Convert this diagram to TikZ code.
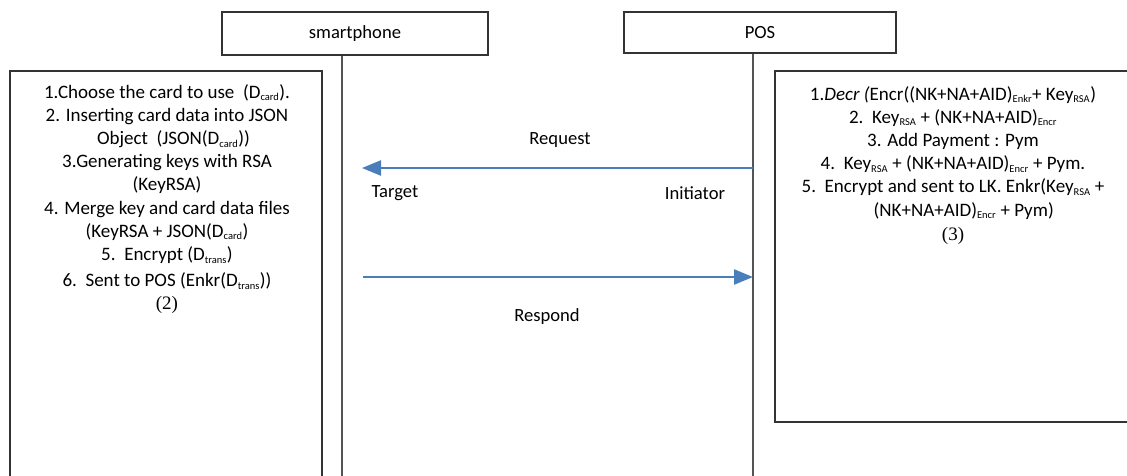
\documentclass[tikz,border=0pt]{standalone}
\usepackage{fontspec}
\setmainfont{Carlito}
\newfontfamily\numfont{Liberation Serif}
\usepackage{tikz}
\usetikzlibrary{arrows.meta,positioning}
\definecolor{msgblue}{HTML}{4A7EBB}
\definecolor{framegray}{HTML}{333333}
\definecolor{linegray}{HTML}{555555}
\newcommand{\sbx}[1]{\textsubscript{\fontsize{10.5}{11}\selectfont #1}}

\tikzset{
    headbox/.style={draw=framegray, line width=1.3pt, fill=white, inner sep=0pt},
    stepbox/.style={draw=framegray, line width=1.5pt, fill=white, inner sep=0pt},
    steptext/.style={align=center, inner sep=0pt, font=\fontsize{19}{23.2}\selectfont},
    lifeline/.style={draw=linegray, line width=2pt},
    msg/.style={draw=msgblue, line width=2.4pt, -{Triangle[length=19pt,width=15pt]}},
    msglabel/.style={font=\fontsize{18.6}{22}\selectfont}
}

\begin{document}
\begin{tikzpicture}[x=1pt, y=-1pt]
    \clip (0,0) rectangle (1127,475);
    \useasboundingbox (0,0) rectangle (1127,475);

    % the two parties
    \node[headbox, minimum width=266, minimum height=43, font=\fontsize{18.6}{22}\selectfont] (phone) at (355,33.5) {smartphone};
    \node[headbox, minimum width=272, minimum height=41, font=\fontsize{18.6}{22}\selectfont] (pos) at (760,32.5) {POS};

    % lifelines
    \coordinate (phoneline) at (342,480);
    \coordinate (posline) at (753,480);
    \draw[lifeline] (phoneline |- phone.south) -- (phoneline);
    \draw[lifeline] (posline |- pos.south) -- (posline);

    % step boxes
    \node[stepbox, minimum width=312, minimum height=420, anchor=north west] (phonebox) at (9,70) {};
    \node[stepbox, minimum width=366, minimum height=351, anchor=north west] (posbox) at (774,70) {};

    \node[steptext, anchor=north] (phonesteps) at (167,84) {
        1.Choose the card to use\ \ (D\sbx{card}).\\
        2. Inserting card data into JSON\\
        \ \ \ Object\ \ (JSON(D\sbx{card}))\\
        3.Generating keys with RSA\\
        (KeyRSA)\\
        4. Merge key and card data files\\
        (KeyRSA + JSON(D\sbx{card})\\
        5.\ \ Encrypt (D\sbx{trans})\\[3pt]
        6.\ \ Sent to POS (Enkr(D\sbx{trans}))\\
        {\numfont (2)}};
    \node[steptext, anchor=north] (possteps) at (953,86) {
        1.\textit{Decr (}Encr((NK+NA+AID)\sbx{Enkr}+ Key\sbx{RSA})\\
        2.\ \ Key\sbx{RSA} + (NK+NA+AID)\sbx{Encr}\\
        3. Add Payment : Pym\\
        4.\ \ Key\sbx{RSA} + (NK+NA+AID)\sbx{Encr} + Pym.\\
        5.\ \ Encrypt and sent to LK. Enkr(Key\sbx{RSA} +\\
        \ \ \ \ \ (NK+NA+AID)\sbx{Encr} + Pym)\\[1pt]
        {\numfont (3)}};

    % messages
    \coordinate (reqfrom) at (753,168);
    \coordinate (reqto) at (362,168);
    \coordinate (respfrom) at (363,277);
    \coordinate (respto) at (753,277);
    \draw[msg] (reqfrom) -- (reqto);
    \draw[msg] (respfrom) -- (respto);

    \node[msglabel] (request) at (560,140) {Request};
    \node[msglabel] (target) at (395,193) {Target};
    \node[msglabel] (initiator) at (695,193) {Initiator};
    \node[msglabel] (respond) at (547,317) {Respond};
\end{tikzpicture}
\end{document}
